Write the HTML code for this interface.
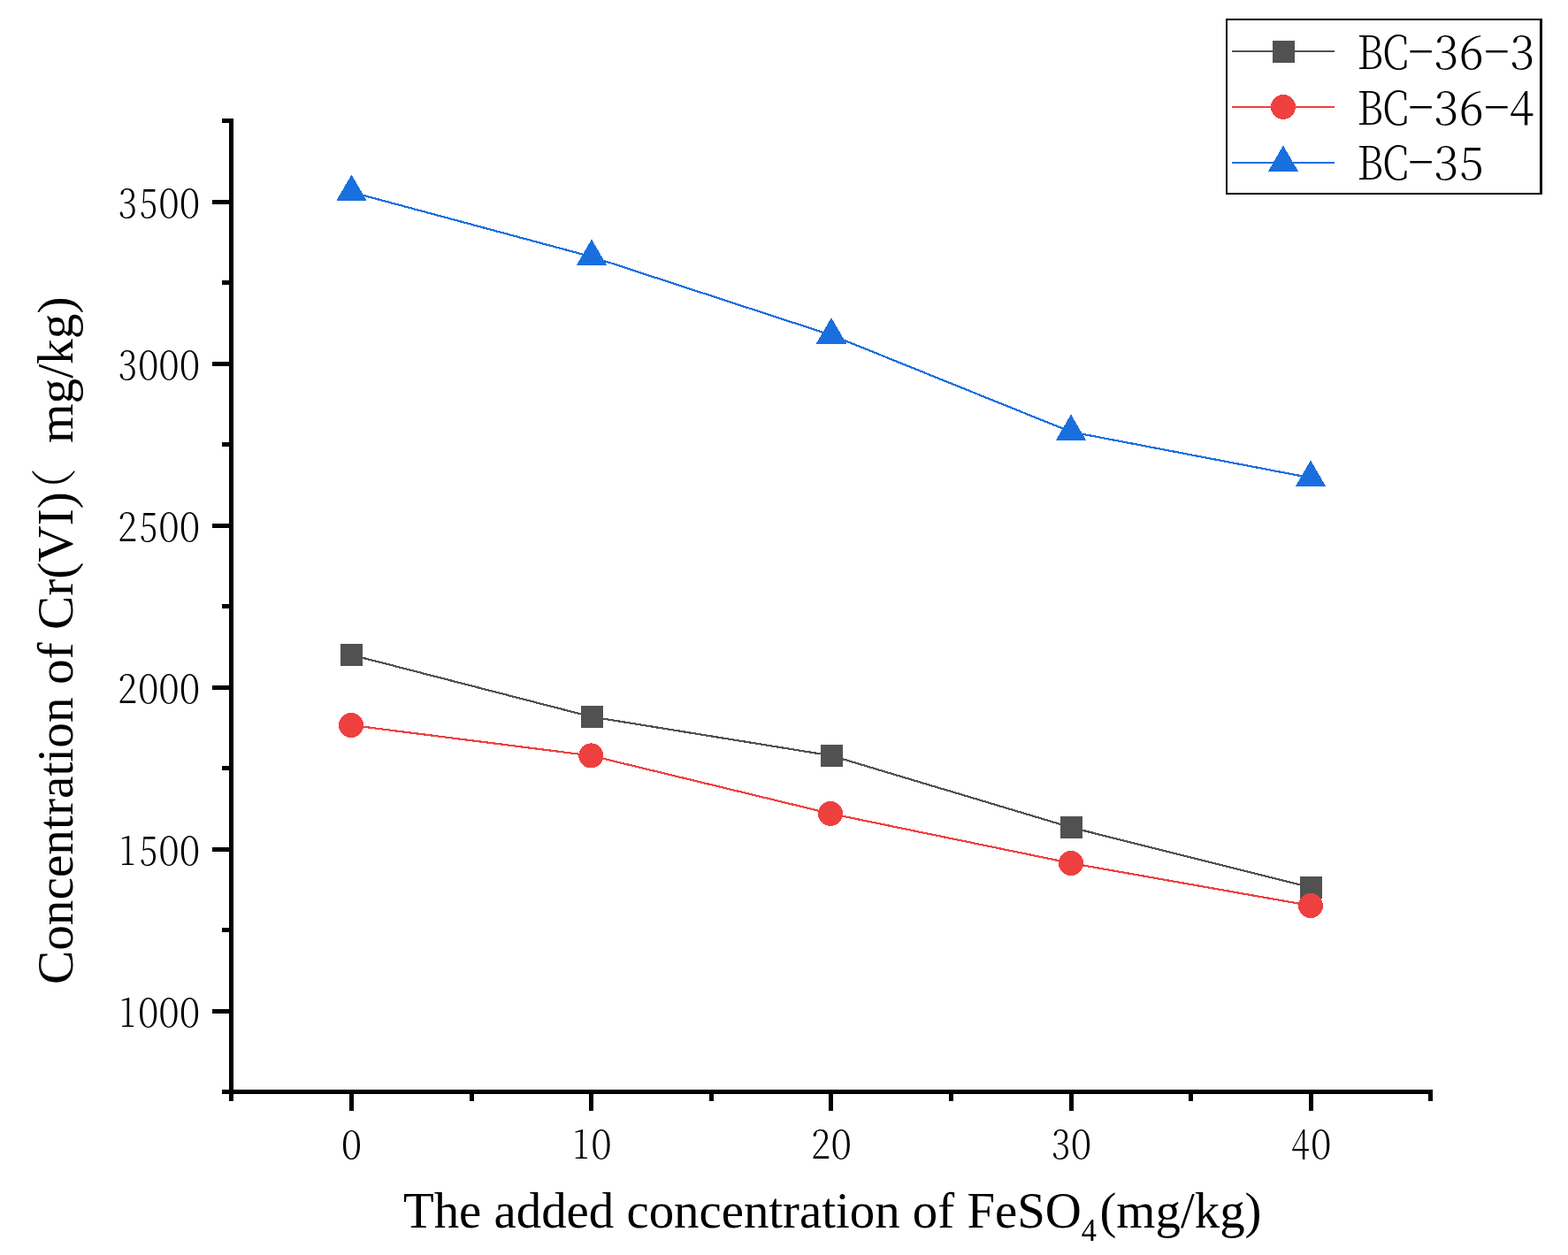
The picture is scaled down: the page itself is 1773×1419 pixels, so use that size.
<!DOCTYPE html><html><head><meta charset="utf-8"><style>html,body{margin:0;padding:0;background:#fff;}svg{display:block;}.t{font-family:"Liberation Serif","Noto Serif CJK SC",serif;fill:#000;}.s{font-family:"Noto Serif CJK SC","Liberation Serif",serif;font-weight:300;fill:#000;}</style></head><body>
<svg width="1773" height="1419" viewBox="0 0 1773 1419" shape-rendering="crispEdges">
<rect x="0" y="0" width="1773" height="1419" fill="#fff"/>
<g fill="#000">
<rect x="259" y="134" width="5" height="1103"/>
<rect x="259" y="1232" width="1361" height="5"/>
<rect x="251" y="1232.00" width="8" height="5"/>
<rect x="240" y="1140.50" width="19" height="5"/>
<rect x="251" y="1049.00" width="8" height="5"/>
<rect x="240" y="957.50" width="19" height="5"/>
<rect x="251" y="866.00" width="8" height="5"/>
<rect x="240" y="774.50" width="19" height="5"/>
<rect x="251" y="683.00" width="8" height="5"/>
<rect x="240" y="591.50" width="19" height="5"/>
<rect x="251" y="500.00" width="8" height="5"/>
<rect x="240" y="408.50" width="19" height="5"/>
<rect x="251" y="317.00" width="8" height="5"/>
<rect x="240" y="225.50" width="19" height="5"/>
<rect x="251" y="134.00" width="8" height="5"/>
<rect x="259.30" y="1237" width="5" height="8"/>
<rect x="394.90" y="1237" width="5" height="19"/>
<rect x="530.50" y="1237" width="5" height="8"/>
<rect x="666.10" y="1237" width="5" height="19"/>
<rect x="801.70" y="1237" width="5" height="8"/>
<rect x="937.30" y="1237" width="5" height="19"/>
<rect x="1072.90" y="1237" width="5" height="8"/>
<rect x="1208.50" y="1237" width="5" height="19"/>
<rect x="1344.10" y="1237" width="5" height="8"/>
<rect x="1479.70" y="1237" width="5" height="19"/>
<rect x="1615.30" y="1237" width="5" height="8"/>
</g>
<text class="s" y="1161.1" font-size="44.6"><tspan x="134.96" textLength="18.03" lengthAdjust="spacingAndGlyphs">1</tspan><tspan x="155.94" textLength="23.48" lengthAdjust="spacingAndGlyphs">0</tspan><tspan x="179.31" textLength="23.48" lengthAdjust="spacingAndGlyphs">0</tspan><tspan x="202.68" textLength="23.48" lengthAdjust="spacingAndGlyphs">0</tspan></text>
<text class="s" y="978.1" font-size="44.6"><tspan x="134.96" textLength="18.03" lengthAdjust="spacingAndGlyphs">1</tspan><tspan x="157.65" textLength="20.44" lengthAdjust="spacingAndGlyphs">5</tspan><tspan x="179.31" textLength="23.48" lengthAdjust="spacingAndGlyphs">0</tspan><tspan x="202.68" textLength="23.48" lengthAdjust="spacingAndGlyphs">0</tspan></text>
<text class="s" y="795.1" font-size="44.6"><tspan x="133.04" textLength="22.13" lengthAdjust="spacingAndGlyphs">2</tspan><tspan x="155.94" textLength="23.48" lengthAdjust="spacingAndGlyphs">0</tspan><tspan x="179.31" textLength="23.48" lengthAdjust="spacingAndGlyphs">0</tspan><tspan x="202.68" textLength="23.48" lengthAdjust="spacingAndGlyphs">0</tspan></text>
<text class="s" y="612.1" font-size="44.6"><tspan x="133.04" textLength="22.13" lengthAdjust="spacingAndGlyphs">2</tspan><tspan x="157.65" textLength="20.44" lengthAdjust="spacingAndGlyphs">5</tspan><tspan x="179.31" textLength="23.48" lengthAdjust="spacingAndGlyphs">0</tspan><tspan x="202.68" textLength="23.48" lengthAdjust="spacingAndGlyphs">0</tspan></text>
<text class="s" y="429.1" font-size="44.6"><tspan x="133.65" textLength="21.52" lengthAdjust="spacingAndGlyphs">3</tspan><tspan x="155.94" textLength="23.48" lengthAdjust="spacingAndGlyphs">0</tspan><tspan x="179.31" textLength="23.48" lengthAdjust="spacingAndGlyphs">0</tspan><tspan x="202.68" textLength="23.48" lengthAdjust="spacingAndGlyphs">0</tspan></text>
<text class="s" y="246.1" font-size="44.6"><tspan x="133.65" textLength="21.52" lengthAdjust="spacingAndGlyphs">3</tspan><tspan x="157.65" textLength="20.44" lengthAdjust="spacingAndGlyphs">5</tspan><tspan x="179.31" textLength="23.48" lengthAdjust="spacingAndGlyphs">0</tspan><tspan x="202.68" textLength="23.48" lengthAdjust="spacingAndGlyphs">0</tspan></text>
<text class="s" y="1310.1" font-size="44.6"><tspan x="385.68" textLength="23.48" lengthAdjust="spacingAndGlyphs">0</tspan></text>
<text class="s" y="1310.1" font-size="44.6"><tspan x="647.82" textLength="18.03" lengthAdjust="spacingAndGlyphs">1</tspan><tspan x="668.33" textLength="23.48" lengthAdjust="spacingAndGlyphs">0</tspan></text>
<text class="s" y="1310.1" font-size="44.6"><tspan x="917.10" textLength="22.13" lengthAdjust="spacingAndGlyphs">2</tspan><tspan x="939.53" textLength="23.48" lengthAdjust="spacingAndGlyphs">0</tspan></text>
<text class="s" y="1310.1" font-size="44.6"><tspan x="1188.91" textLength="21.52" lengthAdjust="spacingAndGlyphs">3</tspan><tspan x="1210.73" textLength="23.48" lengthAdjust="spacingAndGlyphs">0</tspan></text>
<text class="s" y="1310.1" font-size="44.6"><tspan x="1460.10" textLength="20.77" lengthAdjust="spacingAndGlyphs">4</tspan><tspan x="1481.93" textLength="23.48" lengthAdjust="spacingAndGlyphs">0</tspan></text>
<g shape-rendering="crispEdges">
<polyline points="397.5,740.5 669,810.5 940,854.4 1211,935.5 1482.5,1003.5" fill="none" stroke="#515151" stroke-width="2.2" stroke-linejoin="round" shape-rendering="crispEdges"/>
<rect x="385.5" y="728.5" width="24" height="24" fill="#515151" stroke="#515151" stroke-width="1"/>
<rect x="657" y="798.5" width="24" height="24" fill="#515151" stroke="#515151" stroke-width="1"/>
<rect x="928" y="842.4" width="24" height="24" fill="#515151" stroke="#515151" stroke-width="1"/>
<rect x="1199" y="923.5" width="24" height="24" fill="#515151" stroke="#515151" stroke-width="1"/>
<rect x="1470.5" y="991.5" width="24" height="24" fill="#515151" stroke="#515151" stroke-width="1"/>
<polyline points="397,820 668.3,854.4 939,919.9 1211,976 1482,1024" fill="none" stroke="#EF4040" stroke-width="2.2" stroke-linejoin="round" shape-rendering="crispEdges"/>
<circle cx="397" cy="820" r="13.5" fill="#EF4040" stroke="#EF4040" stroke-width="1"/>
<circle cx="668.3" cy="854.4" r="13.5" fill="#EF4040" stroke="#EF4040" stroke-width="1"/>
<circle cx="939" cy="919.9" r="13.5" fill="#EF4040" stroke="#EF4040" stroke-width="1"/>
<circle cx="1211" cy="976" r="13.5" fill="#EF4040" stroke="#EF4040" stroke-width="1"/>
<circle cx="1482" cy="1024" r="13.5" fill="#EF4040" stroke="#EF4040" stroke-width="1"/>
<polyline points="397.5,217.3 669,290.3 940,378.9 1211,488.3 1482,540.2" fill="none" stroke="#1A6FDF" stroke-width="2.2" stroke-linejoin="round" shape-rendering="crispEdges"/>
<polygon points="397.5,198.7 413.7,226.5 381.3,226.5" fill="#1A6FDF" stroke="#1A6FDF" stroke-width="1.2" stroke-linejoin="round"/>
<polygon points="669.0,271.7 685.2,299.5 652.8,299.5" fill="#1A6FDF" stroke="#1A6FDF" stroke-width="1.2" stroke-linejoin="round"/>
<polygon points="940.0,360.3 956.2,388.1 923.8,388.1" fill="#1A6FDF" stroke="#1A6FDF" stroke-width="1.2" stroke-linejoin="round"/>
<polygon points="1211.0,469.7 1227.2,497.5 1194.8,497.5" fill="#1A6FDF" stroke="#1A6FDF" stroke-width="1.2" stroke-linejoin="round"/>
<polygon points="1482.0,521.6 1498.2,549.4 1465.8,549.4" fill="#1A6FDF" stroke="#1A6FDF" stroke-width="1.2" stroke-linejoin="round"/>
</g>
<g fill="#000"><rect x="1386" y="21" width="2" height="199"/><rect x="1386" y="21" width="358" height="2"/><rect x="1741" y="21" width="3" height="199"/><rect x="1386" y="218" width="358" height="2"/></g>
<g shape-rendering="crispEdges">
<line x1="1393" y1="58.2" x2="1509" y2="58.2" stroke="#515151" stroke-width="2.2"/>
<rect x="1439.3" y="46.2" width="24" height="24" fill="#515151" stroke="#515151" stroke-width="1"/>
<text class="s" y="77.9" font-size="52"><tspan x="1534.38" textLength="29.67" lengthAdjust="spacingAndGlyphs">B</tspan><tspan x="1563.19" textLength="29.54" lengthAdjust="spacingAndGlyphs">C</tspan><tspan x="1590.19" dy="-6" textLength="32.82" lengthAdjust="spacingAndGlyphs">-</tspan><tspan x="1621.36" dy="6" textLength="27.98" lengthAdjust="spacingAndGlyphs">3</tspan><tspan x="1649.99" textLength="27.66" lengthAdjust="spacingAndGlyphs">6</tspan><tspan x="1675.99" dy="-6" textLength="32.82" lengthAdjust="spacingAndGlyphs">-</tspan><tspan x="1707.16" dy="6" textLength="27.98" lengthAdjust="spacingAndGlyphs">3</tspan></text>
<line x1="1393" y1="120.9" x2="1509" y2="120.9" stroke="#EF4040" stroke-width="2.2"/>
<circle cx="1451" cy="120.9" r="13.5" fill="#EF4040" stroke="#EF4040" stroke-width="1"/>
<text class="s" y="140.6" font-size="52"><tspan x="1534.38" textLength="29.67" lengthAdjust="spacingAndGlyphs">B</tspan><tspan x="1563.19" textLength="29.54" lengthAdjust="spacingAndGlyphs">C</tspan><tspan x="1590.19" dy="-6" textLength="32.82" lengthAdjust="spacingAndGlyphs">-</tspan><tspan x="1621.36" dy="6" textLength="27.98" lengthAdjust="spacingAndGlyphs">3</tspan><tspan x="1649.99" textLength="27.66" lengthAdjust="spacingAndGlyphs">6</tspan><tspan x="1675.99" dy="-6" textLength="32.82" lengthAdjust="spacingAndGlyphs">-</tspan><tspan x="1706.87" dy="6" textLength="27.54" lengthAdjust="spacingAndGlyphs">4</tspan></text>
<line x1="1393" y1="184.3" x2="1509" y2="184.3" stroke="#1A6FDF" stroke-width="2.2"/>
<polygon points="1451.0,165.7 1467.2,193.5 1434.8,193.5" fill="#1A6FDF" stroke="#1A6FDF" stroke-width="1.2" stroke-linejoin="round"/>
<text class="s" y="202.8" font-size="52"><tspan x="1534.38" textLength="29.67" lengthAdjust="spacingAndGlyphs">B</tspan><tspan x="1563.19" textLength="29.54" lengthAdjust="spacingAndGlyphs">C</tspan><tspan x="1590.19" dy="-6" textLength="32.82" lengthAdjust="spacingAndGlyphs">-</tspan><tspan x="1621.36" dy="6" textLength="27.98" lengthAdjust="spacingAndGlyphs">3</tspan><tspan x="1650.55" textLength="27.05" lengthAdjust="spacingAndGlyphs">5</tspan></text>
</g>
<text class="t" font-size="58" transform="translate(456,1387.8) scale(0.98,1)">The added concentration of FeSO<tspan font-size="35" dy="15.5">4</tspan><tspan dy="-15.5" dx="3.5">(mg/kg)</tspan></text>
<text class="t" font-size="58" transform="translate(82,1113) rotate(-90) scale(0.988,1)">Concentration of Cr(VI)<tspan class="s" font-size="52.2" x="539" dy="-2.5">（</tspan><tspan x="604.9" dy="2.5"> mg/kg)</tspan></text>
</svg></body></html>
